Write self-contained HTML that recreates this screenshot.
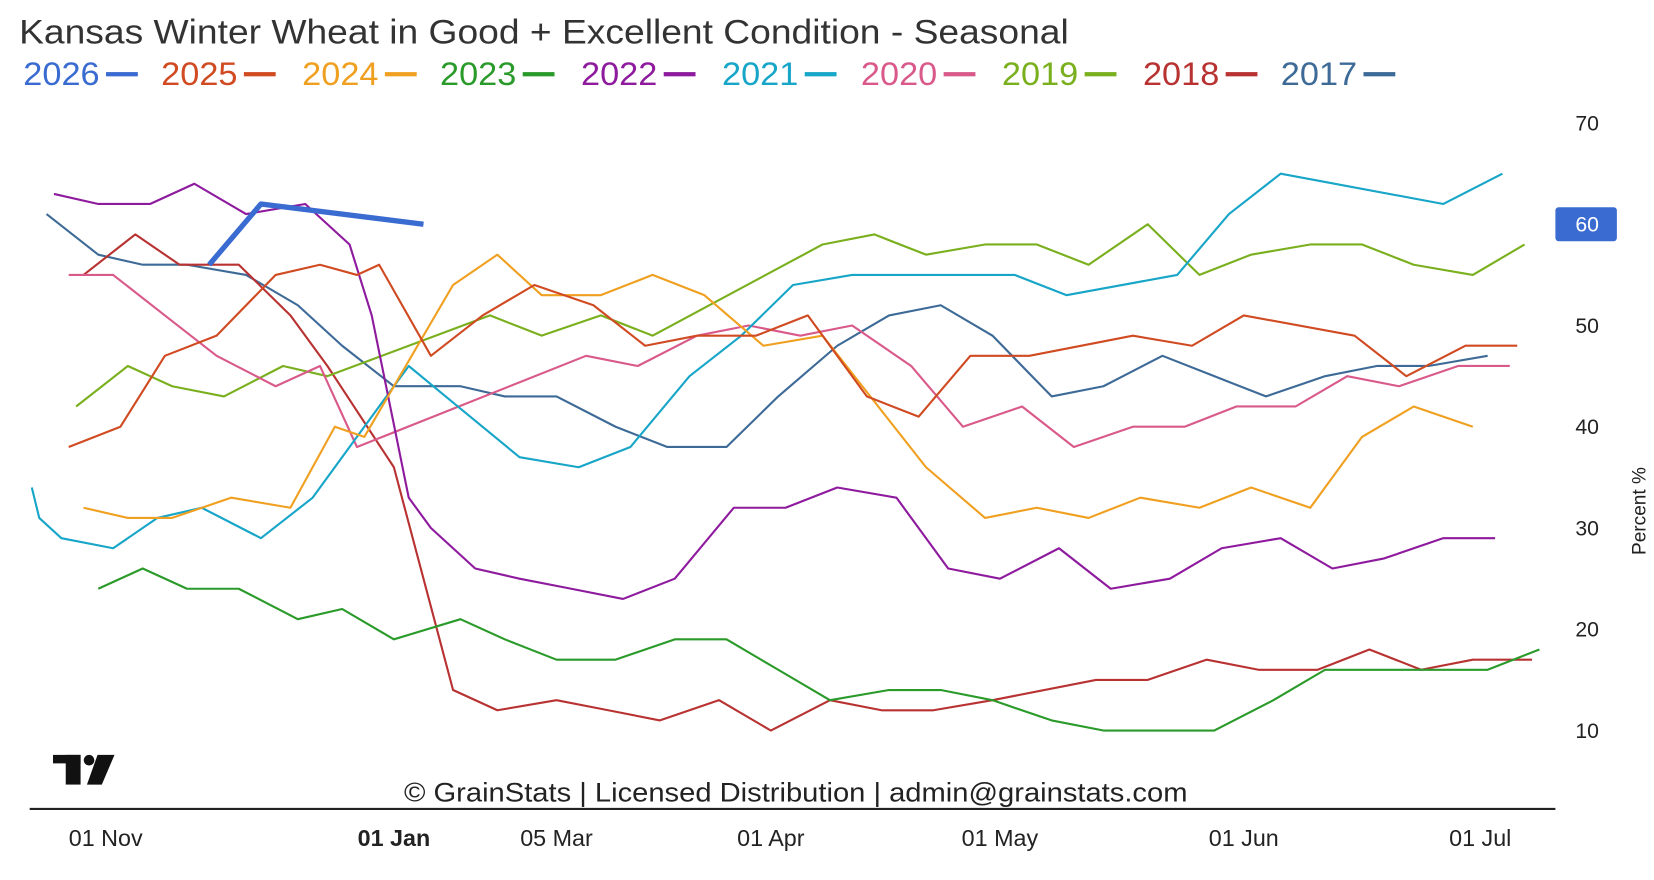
<!DOCTYPE html>
<html><head><meta charset="utf-8"><style>
html,body{margin:0;padding:0;background:#fff;}
svg{display:block;font-family:"Liberation Sans",sans-serif;}
</style></head><body>
<svg id="chart" width="1654" height="880" viewBox="0 0 1560 830" preserveAspectRatio="none" xmlns="http://www.w3.org/2000/svg">
<rect width="1560" height="830" fill="#fff"/>
<text x="18" y="41" font-size="32" fill="#333" textLength="990" lengthAdjust="spacingAndGlyphs">Kansas Winter Wheat in Good + Excellent Condition - Seasonal</text>
<g id="legend"></g>
<g id="yaxis"></g>
<text transform="translate(1552,482) rotate(-90)" font-size="18" fill="#222" text-anchor="middle">Percent %</text>
<g id="series"></g>
<g fill="#111">
<rect x="50" y="712" width="26" height="8"/><rect x="62" y="712" width="14" height="28"/>
<circle cx="84" cy="717" r="5"/><polygon points="92,712 108,712 96,740 82,740"/>
</g>
<text x="381" y="756" font-size="25" fill="#222" textLength="739" lengthAdjust="spacingAndGlyphs">© GrainStats | Licensed Distribution | admin@grainstats.com</text>
<line x1="28" y1="763" x2="1467" y2="763" stroke="#222" stroke-width="2"/>
<g id="xaxis"></g>
</svg>
<script>
const years=["2026","2025","2024","2023","2022","2021","2020","2019","2018","2017"];
const colors=["#3a6bd1","#d04a22","#f0a020","#2a9a2a","#8e1a9e","#17a5c8","#d95a8a","#7aaf1e","#b83232","#3d6a97"];
const yTicks=[70,60,50,40,30,20,10];
const xTickLabels=["01 Nov","01 Jan","05 Mar","01 Apr","01 May","01 Jun","01 Jul"];
const xTickDays=[10,49,71,100,131,164,196];
const d2026=[24,31,53];
const v2026=[56,62,60];
const d2025=[5,12,18,25,33,39,44,47,54,61,68,76,83,90,98,105,113,120,127,135,149,157,164,179,186,194,201];
const v2025=[38,40,47,49,55,56,55,56,47,51,54,52,48,49,49,51,43,41,47,47,49,48,51,49,45,48,48];
const d2024=[7,13,19,27,35,41,45,57,63,69,77,84,91,99,107,121,129,136,143,150,158,165,173,180,187,195];
const v2024=[32,31,31,33,32,40,39,54,57,53,53,55,53,48,49,36,31,32,31,33,32,34,32,39,42,40];
const d2023=[9,15,21,28,36,42,49,58,64,71,79,87,94,101,108,116,123,130,138,145,153,160,168,175,182,190,197,204];
const v2023=[24,26,24,24,21,22,19,21,19,17,17,19,19,16,13,14,14,13,11,10,10,10,13,16,16,16,16,18];
const d2022=[3,9,16,22,29,37,43,46,51,54,60,66,73,80,87,95,102,109,117,124,131,139,146,154,161,169,176,183,191,198];
const v2022=[63,62,62,64,61,62,58,51,33,30,26,25,24,23,25,32,32,34,33,26,25,28,24,25,28,29,26,27,29,29];
const d2021=[0,1,4,11,17,23,31,38,45,51,56,66,74,81,89,96,103,111,118,126,133,140,155,162,169,191,199];
const v2021=[34,31,29,28,31,32,29,33,40,46,43,37,36,38,45,49,54,55,55,55,55,53,55,61,65,62,65];
const d2020=[5,11,18,25,33,39,44,75,82,90,97,104,111,119,126,134,141,149,156,163,171,178,185,193,200];
const v2020=[55,55,51,47,44,46,38,47,46,49,50,49,50,46,40,42,38,40,40,42,42,45,44,46,46];
const d2019=[6,13,19,26,34,40,62,69,77,84,107,114,121,129,136,143,151,158,165,173,180,187,195,202];
const v2019=[42,46,44,43,46,45,51,49,51,49,58,59,57,58,58,56,60,55,57,58,58,56,55,58];
const d2018=[7,14,20,28,35,40,49,57,63,71,78,85,93,100,108,115,122,130,144,151,159,166,174,181,188,195,203];
const v2018=[55,59,56,56,51,46,36,14,12,13,12,11,13,10,13,12,12,13,15,15,17,16,16,18,16,17,17];
const d2017=[2,9,15,21,29,36,42,49,58,64,71,79,86,94,101,109,116,123,130,138,145,153,160,167,175,182,189,197];
const v2017=[61,57,56,56,55,52,48,44,44,43,43,40,38,38,43,48,51,52,49,43,44,47,45,43,45,46,46,47];
const lastValue=60;

const NS="http://www.w3.org/2000/svg";
const xScale=d=>30+d*6.97;
const yScale=v=>116+(70-v)*9.55;
function mk(tag,attrs,parent){const e=document.createElementNS(NS,tag);for(const k in attrs)e.setAttribute(k,attrs[k]);parent.appendChild(e);return e;}

const allD=[d2026,d2025,d2024,d2023,d2022,d2021,d2020,d2019,d2018,d2017];
const allV=[v2026,v2025,v2024,v2023,v2022,v2021,v2020,v2019,v2018,v2017];
const sg=document.getElementById('series');
for(let i=allD.length-1;i>=0;i--){
  const pts=allD[i].map((d,j)=>xScale(d).toFixed(1)+","+yScale(allV[i][j]).toFixed(1)).join(" ");
  const pl=mk('polyline',{points:pts,fill:"none",stroke:colors[i],"stroke-width":i===0?5:2,"stroke-linejoin":"round"},sg);
  
  
}

const lg=document.getElementById('legend');
const legX=[22,152,285,415,548,681,812,945,1078,1208];
years.forEach((y,i)=>{
  const t=mk('text',{x:legX[i],y:80,"font-size":31,fill:colors[i],textLength:72,lengthAdjust:"spacingAndGlyphs"},lg);
  t.textContent=y;
  
  
  const r=mk('rect',{x:legX[i]+78,y:68,width:30,height:4,fill:colors[i]},lg);
  
  
});

const ya=document.getElementById('yaxis');
yTicks.forEach(v=>{
  const t=mk('text',{x:1497,y:yScale(v)+7,"font-size":20,fill:"#222","text-anchor":"middle"},ya);
  t.textContent=v;
  
  
});
const bx=mk('rect',{x:1467,y:yScale(lastValue)-16,width:58,height:32,rx:3,fill:"#3a6bd1"},ya);


const bt=mk('text',{x:1497,y:yScale(lastValue)+7,"font-size":20,fill:"#fff","text-anchor":"middle"},ya);
bt.textContent=lastValue;



const xa=document.getElementById('xaxis');
xTickLabels.forEach((l,i)=>{
  const t=mk('text',{x:xScale(xTickDays[i]),y:798,"font-size":22,fill:"#222","text-anchor":"middle","font-weight":l==="01 Jan"?"bold":"normal"},xa);
  t.textContent=l;
  
  
});
</script>
</body></html>
